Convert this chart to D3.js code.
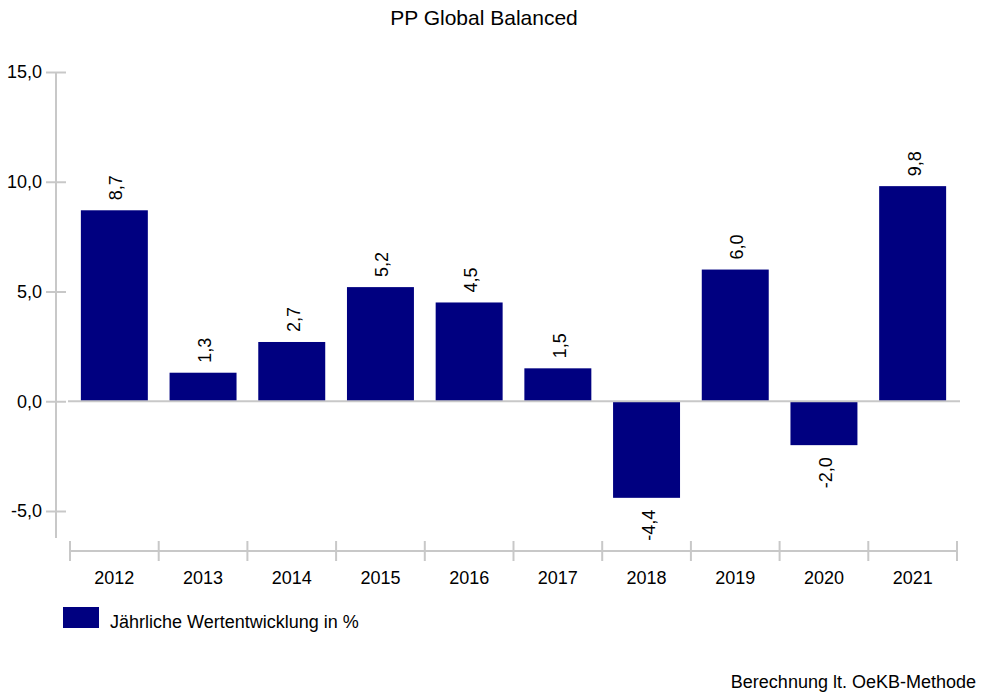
<!DOCTYPE html>
<html>
<head>
<meta charset="utf-8">
<script src="https://cdn.jsdelivr.net/npm/d3@7"></script>
<style>
  body { margin: 0; background: #fff; }
  svg { font-family: "Liberation Sans", Arial, sans-serif; }
</style>
</head>
<body>
<svg></svg>
<script>
let years = ['2012', '2013', '2014', '2015', '2016', '2017', '2018', '2019', '2020', '2021']
let returns = [8.7, 1.3, 2.7, 5.2, 4.5, 1.5, -4.4, 6.0, -2.0, 9.8]
let yTicks = [-5, 0, 5, 10, 15]

let data = years.map((y, i) => ({ year: y, value: returns[i] }))

let width = 985
let height = 693
let grey = '#c8c8c8'
let fs = 18
let fmt = v => d3.format('.1f')(v).replace('.', ',').replace('\u2212', '-')

let svg = d3.select('svg')
    .attr('width', width)
    .attr('height', height)

let x = d3.scaleBand().domain(years).range([70, 957]).paddingInner(0).paddingOuter(0)
let y = d3.scaleLinear().domain([-5, 15]).range([511, 72])

// title
svg.append('text')
    .attr('x', 484).attr('y', 25)
    .attr('text-anchor', 'middle')
    .attr('font-size', 21)
    .text('PP Global Balanced')

// y axis
let yAxis = svg.append('g')
    .attr('transform', 'translate(56,0)')
    .call(d3.axisLeft(y).tickValues(yTicks).tickFormat(fmt).tickSize(10).tickPadding(4))
yAxis.select('.domain').remove()
yAxis.selectAll('.tick line').attr('stroke', grey).attr('stroke-width', 2).attr('x2', 10).attr('x1', -10)
yAxis.selectAll('.tick text').attr('font-size', fs).attr('fill', '#000').attr('x', -14).attr('font-family', '"Liberation Sans", Arial, sans-serif')
yAxis.append('line')
    .attr('x1', 0).attr('x2', 0)
    .attr('y1', 72).attr('y2', 538)
    .attr('stroke', grey).attr('stroke-width', 2)

// bars
let barW = x.bandwidth() * 0.755
svg.selectAll('.bar')
    .data(data)
    .enter()
    .append('rect')
    .attr('class', 'bar')
    .attr('x', d => x(d.year) + (x.bandwidth() - barW) / 2)
    .attr('y', d => y(Math.max(0, d.value)))
    .attr('width', barW)
    .attr('height', d => Math.abs(y(d.value) - y(0)))
    .attr('fill', '#000080')

// zero line
svg.append('line')
    .attr('x1', 68).attr('x2', 960)
    .attr('y1', y(0)).attr('y2', y(0))
    .attr('stroke', grey).attr('stroke-width', 2)

// value labels (rotated)
svg.selectAll('.lbl')
    .data(data)
    .enter()
    .append('text')
    .attr('class', 'lbl')
    .attr('font-size', fs)
    .attr('text-anchor', d => d.value >= 0 ? 'start' : 'end')
    .attr('transform', d => {
      let cx = x(d.year) + x.bandwidth() / 2 + 8
      let cy = d.value >= 0 ? y(d.value) - 10 : y(d.value) + 12
      return 'translate(' + cx + ',' + cy + ') rotate(-90)'
    })
    .text(d => fmt(d.value))

// x axis
let xAxis = svg.append('g').attr('transform', 'translate(0,551)')
xAxis.append('line')
    .attr('x1', 70).attr('x2', 957)
    .attr('stroke', grey).attr('stroke-width', 2)
let edges = years.map(d => x(d)).concat([x.range()[1]])
xAxis.selectAll('.tk')
    .data(edges)
    .enter()
    .append('line')
    .attr('x1', d => d).attr('x2', d => d)
    .attr('y1', -10).attr('y2', 10)
    .attr('stroke', grey).attr('stroke-width', 2)
xAxis.selectAll('.yr')
    .data(years)
    .enter()
    .append('text')
    .attr('x', d => x(d) + x.bandwidth() / 2)
    .attr('y', 33)
    .attr('text-anchor', 'middle')
    .attr('font-size', fs)
    .text(d => d)

// legend
svg.append('rect')
    .attr('x', 63).attr('y', 607)
    .attr('width', 36).attr('height', 21)
    .attr('fill', '#000080')
svg.append('text')
    .attr('x', 110).attr('y', 628)
    .attr('font-size', fs)
    .text('Jährliche Wertentwicklung in %')

// footer
svg.append('text')
    .attr('x', 976).attr('y', 688)
    .attr('text-anchor', 'end')
    .attr('font-size', fs)
    .text('Berechnung lt. OeKB-Methode')
</script>
</body>
</html>
